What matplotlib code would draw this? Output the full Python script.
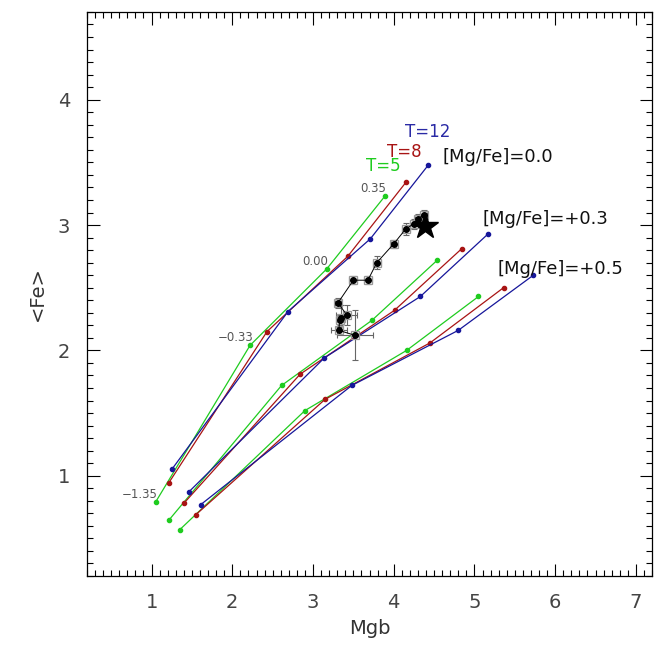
import numpy as np
import matplotlib
matplotlib.use("Agg")
import matplotlib.pyplot as plt
from matplotlib.ticker import MultipleLocator

# model grids: Mgb and <Fe> for [Z/H] = -1.35, -0.33, 0.00, 0.35
# [Mg/Fe] = 0.0
mgb_00_t5 = [1.05, 2.22, 3.17, 3.89]
fe_00_t5 = [0.79, 2.04, 2.65, 3.23]
mgb_00_t8 = [1.21, 2.43, 3.43, 4.15]
fe_00_t8 = [0.94, 2.15, 2.75, 3.34]
mgb_00_t12 = [1.25, 2.69, 3.71, 4.43]
fe_00_t12 = [1.05, 2.31, 2.89, 3.48]
# [Mg/Fe] = +0.3
mgb_03_t5 = [1.22, 2.61, 3.73, 4.54]
fe_03_t5 = [0.65, 1.72, 2.24, 2.72]
mgb_03_t8 = [1.40, 2.84, 4.01, 4.84]
fe_03_t8 = [0.78, 1.81, 2.32, 2.81]
mgb_03_t12 = [1.46, 3.14, 4.33, 5.17]
fe_03_t12 = [0.87, 1.94, 2.43, 2.93]
# [Mg/Fe] = +0.5
mgb_05_t5 = [1.35, 2.90, 4.16, 5.05]
fe_05_t5 = [0.57, 1.52, 2.00, 2.43]
mgb_05_t8 = [1.55, 3.15, 4.45, 5.36]
fe_05_t8 = [0.69, 1.61, 2.06, 2.50]
mgb_05_t12 = [1.61, 3.48, 4.80, 5.73]
fe_05_t12 = [0.77, 1.72, 2.16, 2.60]

zh_labels = ["\u22121.35", "\u22120.33", "0.00", "0.35"]
zh_label_x = [1.08, 2.26, 3.19, 3.90]
zh_label_y = [0.85, 2.10, 2.71, 3.29]

# observed profile
obs_mgb = [3.52, 3.32, 3.33, 3.35, 3.42, 3.31, 3.50, 3.68, 3.79, 4.00, 4.15, 4.25, 4.30, 4.37]
obs_fe = [2.12, 2.16, 2.24, 2.26, 2.28, 2.38, 2.56, 2.56, 2.70, 2.85, 2.97, 3.01, 3.05, 3.08]
obs_mgb_err = [0.22, 0.10, 0.05, 0.04, 0.13, 0.04, 0.05, 0.05, 0.05, 0.03, 0.05, 0.05, 0.04, 0.04]
obs_fe_err = [0.20, 0.03, 0.04, 0.10, 0.08, 0.04, 0.03, 0.03, 0.05, 0.03, 0.05, 0.04, 0.04, 0.04]

star_mgb = 4.39
star_fe = 2.99

green = "#1fcc1f"
red = "#a81414"
blue = "#16169a"

fig = plt.figure(figsize=(6.64, 6.64), dpi=100)
ax = fig.add_axes([0.131, 0.1325, 0.851, 0.8495])

grids = [
    (mgb_00_t5, fe_00_t5, mgb_00_t8, fe_00_t8, mgb_00_t12, fe_00_t12),
    (mgb_03_t5, fe_03_t5, mgb_03_t8, fe_03_t8, mgb_03_t12, fe_03_t12),
    (mgb_05_t5, fe_05_t5, mgb_05_t8, fe_05_t8, mgb_05_t12, fe_05_t12),
]
for g in grids:
    ax.plot(g[0], g[1], "-o", color=green, lw=0.9, ms=3)
    ax.plot(g[2], g[3], "-o", color=red, lw=0.9, ms=3)
    ax.plot(g[4], g[5], "-o", color=blue, lw=0.9, ms=3)

for lab, lx, ly in zip(zh_labels, zh_label_x, zh_label_y):
    ax.text(lx, ly, lab, ha="right", va="center", fontsize=8.5, color="#555555")

# observations
ax.errorbar(obs_mgb, obs_fe, xerr=obs_mgb_err, yerr=obs_fe_err, fmt="none",
            ecolor="#666666", elinewidth=0.8, capsize=2.5, capthick=0.8)
ax.plot(obs_mgb, obs_fe, "s", mfc="none", mec="#999999", ms=5.5, mew=0.9)
ax.plot(obs_mgb, obs_fe, "-o", color="black", lw=0.7, ms=4)
ax.plot(star_mgb, star_fe, "*", color="black", ms=19)

ax.text(3.66, 3.47, "T=5", color=green, fontsize=12, va="center")
ax.text(3.92, 3.58, "T=8", color=red, fontsize=12, va="center")
ax.text(4.14, 3.74, "T=12", color="#2a2aa5", fontsize=12, va="center")
ax.text(4.60, 3.54, "[Mg/Fe]=0.0", fontsize=13, va="center", color="#111111")
ax.text(5.10, 3.05, "[Mg/Fe]=+0.3", fontsize=13, va="center", color="#111111")
ax.text(5.29, 2.65, "[Mg/Fe]=+0.5", fontsize=13, va="center", color="#111111")

ax.set_xlim(0.2, 7.2)
ax.set_ylim(0.2, 4.7)
ax.xaxis.set_major_locator(MultipleLocator(1))
ax.xaxis.set_minor_locator(MultipleLocator(0.1))
ax.yaxis.set_major_locator(MultipleLocator(1))
ax.yaxis.set_minor_locator(MultipleLocator(0.1))
ax.tick_params(which="both", direction="in", top=True, right=True,
               labelsize=14, labelcolor="#444444", pad=12)
ax.tick_params(which="major", length=9, width=0.8)
ax.tick_params(which="minor", length=4.5, width=0.8)
for s in ax.spines.values():
    s.set_linewidth(0.9)

ax.set_xlabel("Mgb", fontsize=14, color="#333333", labelpad=5)
ax.set_ylabel("<Fe>", fontsize=14, color="#333333", labelpad=8)

fig.savefig("out.png", dpi=100)
